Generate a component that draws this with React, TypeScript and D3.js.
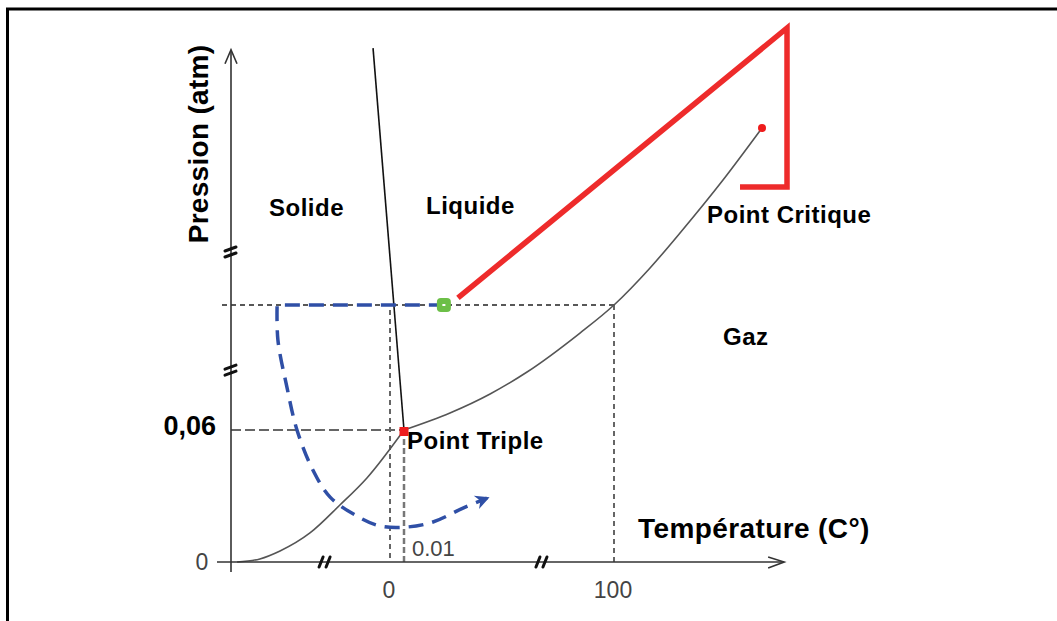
import * as d3 from "d3";

// Schematic phase diagram of water. Both axes are broken ("//"), so the
// scales are piecewise-linear through the labelled stops.
const TEMP_STOPS = [-60, 0, 0.01, 100, 374];
const PRESS_STOPS = [0, 0.06, 1, 218, 320];

type Pt = { t: number; p: number };

const sublimationCurve: Pt[] = [
  { t: -57.7, p: 0 },
  { t: -49.1, p: 0.0014 },
  { t: -41.5, p: 0.005 },
  { t: -30.2, p: 0.0132 },
  { t: -18.9, p: 0.0259 },
  { t: -8.7, p: 0.0382 },
  { t: 0.01, p: 0.06 },
];

const vaporCurve: Pt[] = [
  { t: 0.01, p: 0.06 },
  { t: 21.9, p: 0.188 },
  { t: 41, p: 0.331 },
  { t: 58.6, p: 0.496 },
  { t: 83.8, p: 0.789 },
  { t: 100, p: 1 },
  { t: 166.7, p: 46.4 },
  { t: 222.2, p: 89.3 },
  { t: 301.8, p: 154.2 },
  { t: 374, p: 218 },
];

const fusionLine: Pt[] = [
  { t: -6.4, p: 316 },
  { t: 0.01, p: 0.06 },
];

const triplePoint: Pt = { t: 0.01, p: 0.06 };
const criticalPoint: Pt = { t: 374, p: 218 };
const startState: Pt = { t: 19, p: 1 };

// blue dashed path: cooled at 1 atm, then a loop around the triple point
const coolingLeg: Pt[] = [
  { t: 19, p: 1 },
  { t: -42.6, p: 1 },
];
const loopLeg: Pt[] = [
  { t: -42.6, p: 1 },
  { t: -42.3, p: 0.737 },
  { t: -38.9, p: 0.383 },
  { t: -35.1, p: 0.06 },
  { t: -29.1, p: 0.0418 },
  { t: -22.6, p: 0.0295 },
  { t: -12.5, p: 0.0209 },
  { t: -3.8, p: 0.0164 },
  { t: 1.4, p: 0.0159 },
  { t: 13.8, p: 0.0182 },
  { t: 28.1, p: 0.0245 },
  { t: 39.5, p: 0.029 },
];

// red hand-drawn annotation
const redLine: Pt[] = [
  { t: 25.7, p: 9.6 },
  { t: 420.3, p: 340.6 },
  { t: 420.3, p: 145.7 },
  { t: 333.3, p: 145.7 },
];

const xTicks = [
  { t: 0, label: "0" },
  { t: 100, label: "100" },
];
const yTicks = [{ p: 0, label: "0" }];
const xBreaks = [-24.5, 65.7];
const yBreaks = [66, 0.51];

const T_MIN = -60;
const T_MAX = 415;
const P_MAX = 314;

const BOLD = "'Liberation Sans', Arial, sans-serif";

export default function App() {
  const x = d3.scaleLinear().domain(TEMP_STOPS).range([231, 390, 404, 614, 762]);
  const y = d3.scaleLinear().domain(PRESS_STOPS).range([562, 430, 305, 128, 44.8]);

  const straight = d3
    .line<Pt>()
    .x((d) => x(d.t))
    .y((d) => y(d.p));
  const smooth = d3
    .line<Pt>()
    .x((d) => x(d.t))
    .y((d) => y(d.p))
    .curve(d3.curveMonotoneX);
  const loop = d3
    .line<Pt>()
    .x((d) => x(d.t))
    .y((d) => y(d.p))
    .curve(d3.curveCatmullRom.alpha(0.5));

  // one continuous path so the dash pattern runs through the corner
  const bluePath =
    (straight(coolingLeg) ?? "") + (loop(loopLeg) ?? "").replace(/^M/, "L");

  const x0 = x(T_MIN);
  const y0 = y(0);
  const xEnd = x(T_MAX);
  const yTop = y(P_MAX);

  return (
    <svg
      width={1057}
      height={621}
      style={{ position: "absolute", left: 0, top: 0, background: "#fff" }}
    >
      <defs>
        <marker
          id="blueHead"
          viewBox="0 0 12 12"
          refX={9}
          refY={6}
          markerWidth={17}
          markerHeight={17}
          markerUnits="userSpaceOnUse"
          orient="auto"
        >
          <path d="M1,1 L11,6 L1,11 L4,6 Z" fill="#2f4fa6" />
        </marker>
      </defs>

      {/* frame */}
      <path d="M7.5,621 V9 H1057" fill="none" stroke="#000" strokeWidth={3} />

      {/* guide lines */}
      <g fill="none">
        <line x1={x0 - 9} x2={x(100)} y1={y(1)} y2={y(1)} stroke="#222" strokeWidth={1.5} strokeDasharray="5 4" />
        <line x1={x(0)} x2={x(0)} y1={y(1) + 5} y2={y0} stroke="#333" strokeWidth={1.5} strokeDasharray="5 4" />
        <line x1={x(100)} x2={x(100)} y1={y(1)} y2={y0} stroke="#333" strokeWidth={1.5} strokeDasharray="5 4" />
        <line x1={x0} x2={x(0.01)} y1={y(0.06)} y2={y(0.06)} stroke="#666" strokeWidth={2} strokeDasharray="10 4" />
        <line x1={x(0.01)} x2={x(0.01)} y1={y(0.06)} y2={y0} stroke="#777" strokeWidth={2.5} strokeDasharray="6 3" />
      </g>

      {/* phase boundaries */}
      <path d={smooth(sublimationCurve) ?? ""} fill="none" stroke="#555" strokeWidth={1.6} />
      <path d={smooth(vaporCurve) ?? ""} fill="none" stroke="#555" strokeWidth={1.6} />
      <path d={straight(fusionLine) ?? ""} fill="none" stroke="#111" strokeWidth={1.6} />

      {/* axes */}
      <g stroke="#333" strokeWidth={1.6} fill="none">
        <line x1={x0} x2={x0} y1={y0 + 10} y2={yTop} />
        <path d={`M${x0 - 6},${yTop + 14} L${x0},${yTop} L${x0 + 6},${yTop + 14}`} />
        <line x1={x0 - 14} x2={xEnd} y1={y0} y2={y0} />
        <path d={`M${xEnd - 16},${y0 - 5} L${xEnd},${y0} L${xEnd - 16},${y0 + 6}`} />
      </g>

      {/* axis breaks */}
      <g stroke="#111" strokeWidth={3} strokeLinecap="round">
        {xBreaks.map((t) => (
          <g key={`xb${t}`} transform={`translate(${x(t)},${y0})`}>
            <line x1={-6} y1={5} x2={-2} y2={-5} />
            <line x1={1} y1={5} x2={5} y2={-5} />
          </g>
        ))}
        {yBreaks.map((p) => (
          <g key={`yb${p}`} transform={`translate(${x0},${y(p)})`}>
            <line x1={-6} y1={-1} x2={5} y2={-5} />
            <line x1={-6} y1={5} x2={5} y2={1} />
          </g>
        ))}
      </g>

      {/* red annotation */}
      <path
        d={straight(redLine) ?? ""}
        fill="none"
        stroke="#ee2b2b"
        strokeWidth={5.5}
        strokeLinejoin="miter"
      />

      {/* transformation path */}
      <path
        d={bluePath}
        fill="none"
        stroke="#2f4fa6"
        strokeWidth={3.5}
        strokeDasharray="15 9"
        markerEnd="url(#blueHead)"
      />

      {/* points */}
      <rect
        x={x(triplePoint.t) - 4.5}
        y={y(triplePoint.p) - 3}
        width={9}
        height={9}
        fill="#ee1c1c"
      />
      <circle cx={x(criticalPoint.t)} cy={y(criticalPoint.p)} r={4} fill="#ee1c1c" />
      <rect
        x={x(startState.t) - 7}
        y={y(startState.p) - 7}
        width={14}
        height={14}
        rx={4}
        fill="#6cbf47"
      />
      <rect x={x(startState.t) - 1.5} y={y(startState.p) - 1} width={3} height={2} fill="#fff" />

      {/* tick labels */}
      <g fontFamily={BOLD} fontSize={23} fill="#444" textAnchor="middle">
        {xTicks.map((d) => (
          <text key={d.label} x={x(d.t) - 1} y={598}>
            {d.label}
          </text>
        ))}
        {yTicks.map((d) => (
          <text key={d.label} x={x0 - 29} y={y(d.p) + 8}>
            {d.label}
          </text>
        ))}
        <text x={x(0.01) + 8} y={y0 - 6} textAnchor="start" fontSize={22}>
          0.01
        </text>
      </g>

      {/* labels */}
      <g fontFamily={BOLD} fontWeight="bold" fill="#000">
        <text x={x0 - 15} y={y(0.06) + 5} textAnchor="end" fontSize={27}>
          0,06
        </text>
        <text transform="translate(208,144) rotate(-90)" textAnchor="middle" fontSize={28} letterSpacing={0.3}>
          Pression (atm)
        </text>
        <text x={638} y={538} fontSize={28} letterSpacing={0.4}>
          Température (C°)
        </text>
        <g fontSize={24} letterSpacing={0.5}>
          <text x={269} y={216}>Solide</text>
          <text x={426} y={214}>Liquide</text>
          <text x={707} y={223}>Point Critique</text>
          <text x={723} y={345}>Gaz</text>
          <text x={407} y={449}>Point Triple</text>
        </g>
      </g>
    </svg>
  );
}
